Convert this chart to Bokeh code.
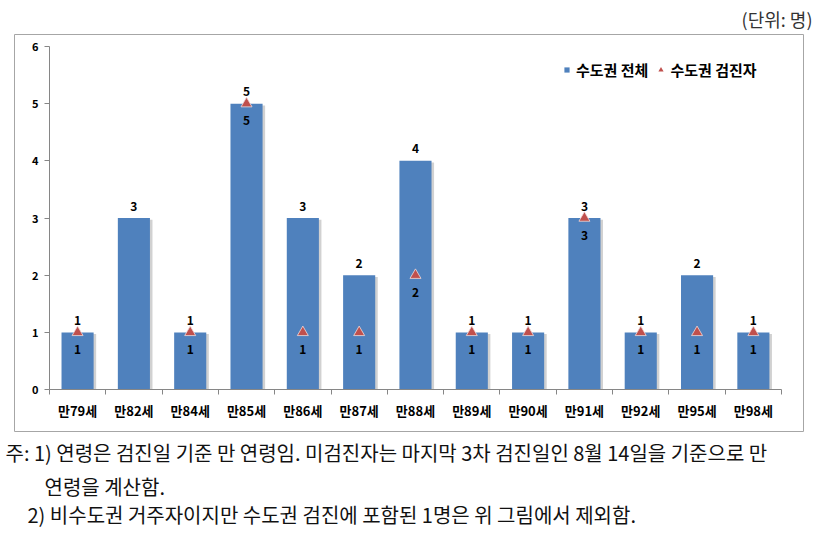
from bokeh.plotting import figure
from bokeh.models import (ColumnDataSource, Range1d, FixedTicker, Title,
                          Legend, LegendItem)
from bokeh.core.properties import value
from bokeh.embed import file_html
from bokeh.resources import INLINE

ages = ["만79세", "만82세", "만84세", "만85세", "만86세", "만87세", "만88세",
        "만89세", "만90세", "만91세", "만92세", "만95세", "만98세"]
total = [1, 3, 1, 5, 3, 2, 4, 1, 1, 3, 1, 2, 1]
screened = [1, None, 1, 5, 1, 1, 2, 1, 1, 3, 1, 1, 1]
y_ticks = [0, 1, 2, 3, 4, 5, 6]
series_names = ["수도권 전체", "수도권 검진자"]
unit_text = "(단위: 명)"
notes = ["주: 1) 연령은 검진일 기준 만 연령임. 미검진자는 마지막 3차 검진일인 8월 14일을 기준으로 만",
         "연령을 계산함.",
         "2) 비수도권 거주자이지만 수도권 검진에 포함된 1명은 위 그림에서 제외함."]

FONT = "Noto Sans CJK KR"
BLUE = "#4F81BD"
RED = "#C0504D"
AXIS = "#868686"

n = len(ages)
xs = [i + 0.5 for i in range(n)]
bar_src = ColumnDataSource(dict(x=xs, top=total, lab=[str(v) for v in total],
                                sx=[x + 0.045 for x in xs], stop=[v - 0.03 for v in total]))
tx = [x for x, v in zip(xs, screened) if v is not None]
ty = [v for v in screened if v is not None]
tri_src = ColumnDataSource(dict(x=tx, y=ty, lab=[str(v) for v in ty]))

# frame = outer chart box; plot area inside it via padded ranges
p = figure(width=817, height=533, output_backend="svg", toolbar_location=None,
           x_range=Range1d(-0.62, n + 0.39), y_range=Range1d(-0.733, 6.21),
           min_border_left=14, min_border_right=14, min_border_top=33, min_border_bottom=102)
p.outline_line_color = "#A6A6A6"
p.outline_line_width = 1
p.xgrid.visible = False
p.ygrid.visible = False
p.background_fill_color = "white"
p.border_fill_color = "white"

# shadow + bars
p.vbar(x="sx", top="stop", bottom=0, width=0.57, source=bar_src,
       fill_color="#9a9a9a", fill_alpha=0.45, line_color=None)
bars = p.vbar(x="x", top="top", bottom=0, width=0.57, source=bar_src,
              fill_color=BLUE, line_color=None)
tri = p.scatter(x="x", y="y", source=tri_src, marker="triangle", size=11,
                fill_color=RED, line_color="#f2dcdb", line_width=0.8)

p.text(x="x", y="top", text="lab", source=bar_src, y_offset=-12,
       text_align="center", text_baseline="middle", text_font=value(FONT),
       text_font_style="bold", text_font_size="12px", text_color="#000000")
p.text(x="x", y="y", text="lab", source=tri_src, y_offset=17,
       text_align="center", text_baseline="middle", text_font=value(FONT),
       text_font_style="bold", text_font_size="12px", text_color="#000000")

# axes drawn at data zero inside the box
xa = p.xaxis[0]
xa.fixed_location = 0
xa.bounds = (0, n)
xa.ticker = FixedTicker(ticks=xs, minor_ticks=list(range(n + 1)))
xa.major_label_overrides = {x: a for x, a in zip(xs, ages)}
xa.major_tick_out = 0
xa.major_tick_in = 0
xa.minor_tick_out = 5
xa.minor_tick_in = 0
xa.minor_tick_line_color = AXIS
xa.axis_line_color = AXIS
xa.major_label_standoff = 6
xa.major_label_text_font = FONT
xa.major_label_text_font_style = "bold"
xa.major_label_text_font_size = "13px"
xa.major_label_text_color = "#000000"

ya = p.yaxis[0]
ya.fixed_location = 0
ya.bounds = (0, 6)
ya.ticker = FixedTicker(ticks=y_ticks, minor_ticks=[])
ya.major_tick_out = 5
ya.major_tick_in = 0
ya.major_tick_line_color = AXIS
ya.axis_line_color = AXIS
ya.major_label_standoff = 6
ya.major_label_text_font = FONT
ya.major_label_text_font_style = "bold"
ya.major_label_text_font_size = "11px"
ya.major_label_text_color = "#000000"

# legend with proxy markers
sq_proxy = p.scatter(x=[float("nan")], y=[float("nan")], marker="square", size=6,
                     fill_color=BLUE, line_color=None)
tri_proxy = p.scatter(x=[float("nan")], y=[float("nan")], marker="triangle", size=6,
                      fill_color=RED, line_color=None)
legend = Legend(items=[LegendItem(label=series_names[0], renderers=[sq_proxy]),
                       LegendItem(label=series_names[1], renderers=[tri_proxy])],
                orientation="horizontal", location=(546, 351),
                glyph_width=13, glyph_height=13, label_standoff=3, spacing=6,
                padding=0, margin=0, border_line_color=None, background_fill_alpha=0,
                label_text_font=FONT, label_text_font_style="bold",
                label_text_font_size="15px", label_text_color="#000000",
                label_height=13)
p.add_layout(legend, "center")

p.add_layout(Title(text=unit_text, align="right", offset=-9, text_font=FONT,
                   text_font_style="normal", text_font_size="18px",
                   text_color="#333333", standoff=6), "above")
note_offsets = [-9, 30, 13]
note_standoffs = [9, -3, -3]
for off, so, t in zip(note_offsets, note_standoffs, notes):
    p.add_layout(Title(text=t, align="left", offset=off, text_font=FONT,
                       text_font_style="normal", text_font_size="20px",
                       text_color="#111111", standoff=so), "below")

open("out.html", "w").write(file_html(p, INLINE))
